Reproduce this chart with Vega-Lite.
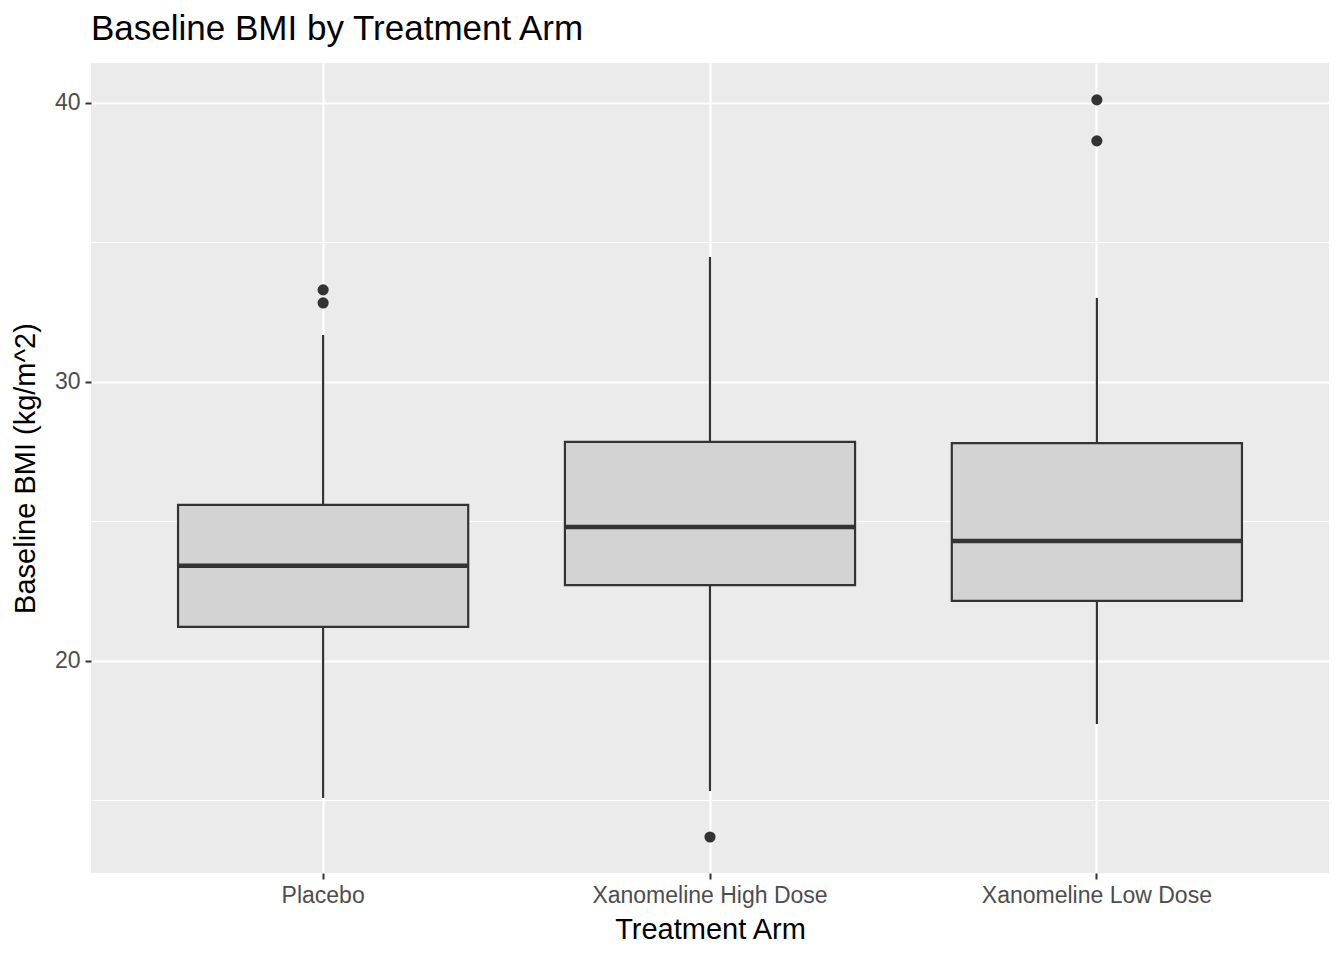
{
  "$schema": "https://vega.github.io/schema/vega-lite/v6.json",
  "width": 1238,
  "height": 810,
  "autosize": {"type": "none"},
  "padding": {"left": 91, "top": 63, "right": 15, "bottom": 87},
  "background": "white",
  "title": {
    "text": "Baseline BMI by Treatment Arm",
    "anchor": "start",
    "frame": "group",
    "font": "Liberation Sans",
    "fontSize": 35,
    "fontWeight": "normal",
    "color": "#000000",
    "offset": 16
  },
  "config": {
    "view": {"fill": "#EBEBEB", "stroke": null},
    "font": "Liberation Sans",
    "axis": {
      "labelFont": "Liberation Sans",
      "titleFont": "Liberation Sans",
      "labelFontSize": 23,
      "labelColor": "#4D4D4D",
      "labelLimit": 400,
      "titleFontSize": 29,
      "titleFontWeight": "normal",
      "titleColor": "#000000",
      "domain": false,
      "tickColor": "#333333",
      "tickWidth": 2,
      "tickSize": 6,
      "gridColor": "#FFFFFF",
      "gridWidth": 2.2,
      "gridOpacity": 1
    }
  },
  "datasets": {
    "stats": [
      {"arm": "Placebo", "lower": 15.09, "q1": 21.22, "median": 23.41, "q3": 25.59, "upper": 31.68},
      {"arm": "Xanomeline High Dose", "lower": 15.34, "q1": 22.72, "median": 24.80, "q3": 27.85, "upper": 34.48},
      {"arm": "Xanomeline Low Dose", "lower": 17.74, "q1": 22.15, "median": 24.30, "q3": 27.81, "upper": 33.01}
    ],
    "outliers": [
      {"arm": "Placebo", "bmi": 33.30},
      {"arm": "Placebo", "bmi": 32.83},
      {"arm": "Xanomeline High Dose", "bmi": 13.69},
      {"arm": "Xanomeline Low Dose", "bmi": 40.11},
      {"arm": "Xanomeline Low Dose", "bmi": 38.64}
    ]
  },
  "layer": [
    {
      "data": {"name": "stats"},
      "mark": {"type": "rule", "color": "#333333", "strokeWidth": 2.2},
      "encoding": {
        "x": {
          "field": "arm",
          "type": "nominal",
          "sort": null,
          "scale": {"paddingInner": 0, "paddingOuter": 0.1},
          "axis": {
            "title": "Treatment Arm",
            "labelAngle": 0,
            "labelPadding": 5,
            "titlePadding": 8,
            "grid": true,
            "bandPosition": 0.5
          }
        },
        "y": {
          "field": "lower",
          "type": "quantitative",
          "scale": {"domain": [12.4, 41.43], "nice": false, "zero": false},
          "axis": {
            "title": "Baseline BMI (kg/m^2)",
            "values": [15, 20, 25, 30, 35, 40],
            "labelExpr": "datum.value % 10 === 0 ? datum.label : ''",
            "gridWidth": {"condition": {"test": "datum.value % 10 === 0", "value": 2.2}, "value": 1.1},
            "tickOpacity": {"condition": {"test": "datum.value % 10 === 0", "value": 1}, "value": 0},
            "labelPadding": 5,
            "titlePadding": 14
          }
        },
        "y2": {"field": "upper"}
      }
    },
    {
      "data": {"name": "stats"},
      "mark": {"type": "bar", "fill": "#D3D3D3", "stroke": "#333333", "strokeWidth": 2.2, "width": {"band": 0.75}},
      "encoding": {
        "x": {"field": "arm", "type": "nominal", "sort": null},
        "y": {"field": "q1", "type": "quantitative"},
        "y2": {"field": "q3"}
      }
    },
    {
      "data": {"name": "stats"},
      "mark": {"type": "tick", "color": "#333333", "size": 290, "thickness": 4.5, "opacity": 1},
      "encoding": {
        "x": {"field": "arm", "type": "nominal", "sort": null},
        "y": {"field": "median", "type": "quantitative"}
      }
    },
    {
      "data": {"name": "outliers"},
      "mark": {"type": "circle", "color": "#333333", "size": 125, "opacity": 1},
      "encoding": {
        "x": {"field": "arm", "type": "nominal", "sort": null},
        "y": {"field": "bmi", "type": "quantitative"}
      }
    }
  ]
}
